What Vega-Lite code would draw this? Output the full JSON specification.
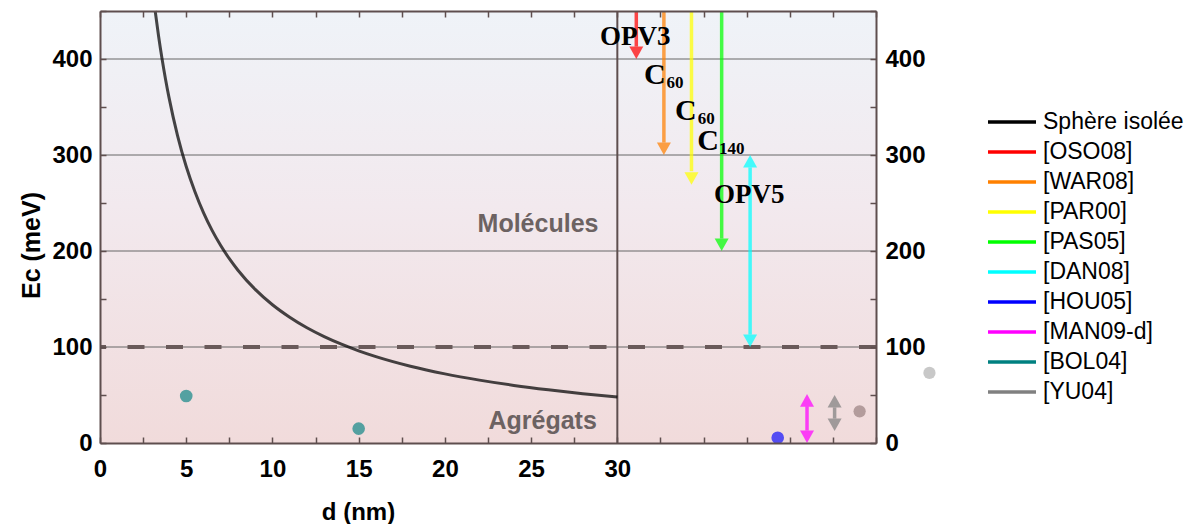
{
  "$schema": "https://vega.github.io/schema/vega-lite/v6.json",
  "width": 776,
  "height": 432,
  "autosize": {"type": "none"},
  "padding": {"left": 100, "top": 11, "right": 324, "bottom": 81},
  "background": "white",
  "config": {"view": {"stroke": null}, "font": "Liberation Sans"},
  "datasets": {
    "curve": [
      {"source": "Sphère isolée", "d": 3.2, "Ec": 450},
      {"source": "Sphère isolée", "d": 3.4, "Ec": 423.5},
      {"source": "Sphère isolée", "d": 3.6, "Ec": 400},
      {"source": "Sphère isolée", "d": 3.8, "Ec": 379},
      {"source": "Sphère isolée", "d": 4, "Ec": 360},
      {"source": "Sphère isolée", "d": 4.5, "Ec": 320},
      {"source": "Sphère isolée", "d": 5, "Ec": 288},
      {"source": "Sphère isolée", "d": 5.5, "Ec": 262},
      {"source": "Sphère isolée", "d": 6, "Ec": 240},
      {"source": "Sphère isolée", "d": 6.5, "Ec": 221.5},
      {"source": "Sphère isolée", "d": 7, "Ec": 205.7},
      {"source": "Sphère isolée", "d": 7.5, "Ec": 192},
      {"source": "Sphère isolée", "d": 8, "Ec": 180},
      {"source": "Sphère isolée", "d": 9, "Ec": 160},
      {"source": "Sphère isolée", "d": 10, "Ec": 144},
      {"source": "Sphère isolée", "d": 11, "Ec": 131},
      {"source": "Sphère isolée", "d": 12, "Ec": 120},
      {"source": "Sphère isolée", "d": 13, "Ec": 110.8},
      {"source": "Sphère isolée", "d": 14, "Ec": 102.9},
      {"source": "Sphère isolée", "d": 15, "Ec": 96},
      {"source": "Sphère isolée", "d": 16, "Ec": 90},
      {"source": "Sphère isolée", "d": 18, "Ec": 80},
      {"source": "Sphère isolée", "d": 20, "Ec": 72},
      {"source": "Sphère isolée", "d": 22, "Ec": 65.5},
      {"source": "Sphère isolée", "d": 24, "Ec": 60},
      {"source": "Sphère isolée", "d": 26, "Ec": 55.4},
      {"source": "Sphère isolée", "d": 28, "Ec": 51.4},
      {"source": "Sphère isolée", "d": 30, "Ec": 48}
    ],
    "grid": [{"y": 100}, {"y": 200}, {"y": 300}, {"y": 400}],
    "shafts": [
      {"source": "[OSO08]", "x": 31.1, "y": 450, "y2": 413},
      {"source": "[WAR08]", "x": 32.7, "y": 450, "y2": 313},
      {"source": "[PAR00]", "x": 34.3, "y": 450, "y2": 283},
      {"source": "[PAS05]", "x": 36.05, "y": 450, "y2": 213},
      {"source": "[DAN08]", "x": 37.7, "y": 113, "y2": 287},
      {"source": "[MAN09-d]", "x": 41.0, "y": 13, "y2": 38},
      {"source": "[YU04]", "x": 42.6, "y": 25.5, "y2": 37}
    ],
    "heads": [
      {"source": "[OSO08]", "x": 31.1, "y": 400, "dir": "down"},
      {"source": "[WAR08]", "x": 32.7, "y": 300, "dir": "down"},
      {"source": "[PAR00]", "x": 34.3, "y": 269, "dir": "down"},
      {"source": "[PAS05]", "x": 36.05, "y": 200, "dir": "down"},
      {"source": "[DAN08]", "x": 37.7, "y": 100, "dir": "down"},
      {"source": "[DAN08]", "x": 37.7, "y": 300, "dir": "up"},
      {"source": "[MAN09-d]", "x": 41.0, "y": 0, "dir": "down"},
      {"source": "[MAN09-d]", "x": 41.0, "y": 51, "dir": "up"},
      {"source": "[YU04]", "x": 42.6, "y": 12.5, "dir": "down"},
      {"source": "[YU04]", "x": 42.6, "y": 50, "dir": "up"}
    ],
    "points": [
      {"source": "[BOL04]", "x": 5, "y": 49},
      {"source": "[BOL04]", "x": 15, "y": 15},
      {"source": "[HOU05]", "x": 39.3, "y": 5.5}
    ],
    "labels": [
      {"t": "OPV3", "x": 29.0, "y": 414.6},
      {"t": "OPV5", "x": 35.6, "y": 249.7}
    ],
    "cs": [
      {"t": "C", "x": 31.55, "y": 374},
      {"t": "C", "x": 33.35, "y": 336.5},
      {"t": "C", "x": 34.64, "y": 305}
    ],
    "subs": [
      {"t": "60", "x": 32.85, "y": 369.5},
      {"t": "60", "x": 34.66, "y": 332},
      {"t": "140", "x": 35.9, "y": 301}
    ],
    "regions": [
      {"t": "Molécules", "x": 25.4, "y": 220},
      {"t": "Agrégats", "x": 25.67, "y": 14.3}
    ]
  },
  "layer": [
    {
      "data": {"values": [{}]},
      "mark": {"type": "rect", "color": {"gradient": "linear", "x1": 0, "y1": 0, "x2": 0, "y2": 1, "stops": [{"offset": 0, "color": "#eff3f8"}, {"offset": 0.45, "color": "#f2e9ee"}, {"offset": 1, "color": "#f1dbdb"}]}},
      "encoding": {
        "x": {"datum": 0, "type": "quantitative", "scale": {"domain": [0, 45], "nice": false, "zero": false}, "axis": null},
        "x2": {"datum": 45},
        "y": {"datum": 0, "type": "quantitative", "scale": {"domain": [0, 450], "nice": false, "zero": false}, "axis": null},
        "y2": {"datum": 450}
      }
    },
    {
      "data": {"name": "grid"},
      "mark": {"type": "rule", "color": "#666666", "strokeWidth": 1},
      "encoding": {
        "y": {"field": "y", "type": "quantitative", "scale": {"domain": [0, 450], "nice": false, "zero": false}, "axis": null}
      }
    },
    {
      "data": {"values": [{"y": 100}]},
      "mark": {"type": "rule", "color": "#6a5a5a", "strokeWidth": 4, "strokeDash": [17, 21.5]},
      "encoding": {
        "y": {"field": "y", "type": "quantitative", "scale": {"domain": [0, 450], "nice": false, "zero": false}, "axis": null}
      }
    },
    {
      "data": {"values": [{"x": 30}]},
      "mark": {"type": "rule", "color": "#5e4e4e", "strokeWidth": 2},
      "encoding": {
        "x": {"field": "x", "type": "quantitative", "scale": {"domain": [0, 45], "nice": false, "zero": false}, "axis": null}
      }
    },
    {
      "data": {"name": "curve"},
      "mark": {"type": "line", "strokeWidth": 3, "opacity": 0.72, "interpolate": "monotone"},
      "encoding": {
        "x": {"field": "d", "type": "quantitative", "scale": {"domain": [0, 45], "nice": false, "zero": false},
          "axis": {"orient": "bottom", "zindex": 1, "values": [0, 2.5, 5, 7.5, 10, 12.5, 15, 17.5, 20, 22.5, 25, 27.5, 30, 32.5, 35, 37.5, 40, 42.5, 45], "format": "~g",
            "labelExpr": "datum.value <= 30 && datum.value % 5 === 0 ? datum.label : ''",
            "tickSize": -6, "labelPadding": 20, "tickColor": "#5e4e4e", "tickWidth": 1.5, "domainColor": "#5e4e4e", "domainWidth": 2, "grid": false,
            "labelFont": "Liberation Sans", "labelFontWeight": "bold", "labelFontSize": 24, "labelColor": "black", "labelFlush": false, "labelOverlap": false,
            "title": "d (nm)", "titleFont": "Liberation Sans", "titleFontWeight": "bold", "titleFontSize": 24, "titleColor": "black",
            "titleX": 258, "titleY": 76, "titleAlign": "center", "titleBaseline": "alphabetic", "titleAnchor": null}},
        "y": {"field": "Ec", "type": "quantitative", "scale": {"domain": [0, 450], "nice": false, "zero": false},
          "axis": {"orient": "left", "zindex": 1, "values": [0, 50, 100, 150, 200, 250, 300, 350, 400, 450],
            "labelExpr": "datum.value % 100 === 0 && datum.value < 450 ? datum.label : ''",
            "tickSize": -6, "labelPadding": 14, "tickColor": "#5e4e4e", "tickWidth": 1.5, "domainColor": "#5e4e4e", "domainWidth": 2, "grid": false,
            "labelFont": "Liberation Sans", "labelFontWeight": "bold", "labelFontSize": 24, "labelColor": "black", "labelFlush": false, "labelOverlap": false,
            "title": "Ec (meV)", "titleFont": "Liberation Sans", "titleFontWeight": "bold", "titleFontSize": 25, "titleColor": "black",
            "titleX": -61, "titleY": 234, "titleAngle": 270, "titleAlign": "center", "titleBaseline": "alphabetic"}},
        "color": {"field": "source", "type": "nominal",
          "scale": {"domain": ["Sphère isolée", "[OSO08]", "[WAR08]", "[PAR00]", "[PAS05]", "[DAN08]", "[HOU05]", "[MAN09-d]", "[BOL04]", "[YU04]"],
            "range": ["#000000", "#ff0000", "#ff8000", "#ffff00", "#00ff00", "#00ffff", "#0000ff", "#ff00ff", "#008080", "#808080"]},
          "legend": {"orient": "none", "legendX": 886, "legendY": 96, "title": null, "symbolType": "stroke", "symbolSize": 2304, "symbolStrokeWidth": 3.5, "symbolOpacity": 1,
            "labelFont": "Liberation Sans", "labelFontSize": 23, "labelColor": "black", "labelOffset": 5, "rowPadding": 0, "clipHeight": 30, "padding": 0, "labelLimit": 300}}
      }
    },
    {
      "data": {"name": "shafts"},
      "mark": {"type": "rule", "strokeWidth": 3.5, "opacity": 0.72},
      "encoding": {
        "x": {"field": "x", "type": "quantitative", "scale": {"domain": [0, 45], "nice": false, "zero": false}, "axis": null},
        "y": {"field": "y", "type": "quantitative", "scale": {"domain": [0, 450], "nice": false, "zero": false}, "axis": null},
        "y2": {"field": "y2"},
        "color": {"field": "source", "type": "nominal", "legend": null}
      }
    },
    {
      "data": {"name": "heads"},
      "mark": {"type": "point", "filled": true, "size": 196, "opacity": 0.72, "strokeWidth": 0},
      "encoding": {
        "x": {"field": "x", "type": "quantitative", "scale": {"domain": [0, 45], "nice": false, "zero": false}, "axis": null},
        "y": {"field": "y", "type": "quantitative", "scale": {"domain": [0, 450], "nice": false, "zero": false}, "axis": null},
        "shape": {"field": "dir", "type": "nominal", "scale": {"domain": ["down", "up"], "range": ["M-1,-1.8L1,-1.8L0,0Z", "M-1,1.8L1,1.8L0,0Z"]}, "legend": null},
        "color": {"field": "source", "type": "nominal", "legend": null}
      }
    },
    {
      "data": {"name": "points"},
      "mark": {"type": "point", "filled": true, "size": 160, "opacity": 0.65, "strokeWidth": 0, "shape": "circle"},
      "encoding": {
        "x": {"field": "x", "type": "quantitative", "scale": {"domain": [0, 45], "nice": false, "zero": false},
          "axis": {"orient": "top", "zindex": 1, "values": [0, 2.5, 5, 7.5, 10, 12.5, 15, 17.5, 20, 22.5, 25, 27.5, 30, 32.5, 35, 37.5, 40, 42.5, 45], "labels": false,
            "tickSize": -6, "tickColor": "#5e4e4e", "tickWidth": 1.5, "domainColor": "#5e4e4e", "domainWidth": 2, "grid": false, "title": null}},
        "y": {"field": "y", "type": "quantitative", "scale": {"domain": [0, 450], "nice": false, "zero": false},
          "axis": {"orient": "right", "zindex": 1, "values": [0, 50, 100, 150, 200, 250, 300, 350, 400, 450],
            "labelExpr": "datum.value % 100 === 0 && datum.value < 450 ? datum.label : ''",
            "tickSize": -6, "labelPadding": 15, "tickColor": "#5e4e4e", "tickWidth": 1.5, "domainColor": "#5e4e4e", "domainWidth": 2, "grid": false,
            "labelFont": "Liberation Sans", "labelFontWeight": "bold", "labelFontSize": 24, "labelColor": "black", "labelFlush": false, "labelOverlap": false, "title": null}},
        "color": {"field": "source", "type": "nominal", "legend": null}
      }
    },
    {
      "data": {"values": [{"x": 44.05, "y": 33}]},
      "mark": {"type": "point", "filled": true, "size": 150, "color": "#b39c9c", "opacity": 1, "strokeWidth": 0, "shape": "circle"},
      "encoding": {
        "x": {"field": "x", "type": "quantitative", "scale": {"domain": [0, 45], "nice": false, "zero": false}, "axis": null},
        "y": {"field": "y", "type": "quantitative", "scale": {"domain": [0, 450], "nice": false, "zero": false}, "axis": null}
      }
    },
    {
      "data": {"values": [{"x": 48.1, "y": 73}]},
      "mark": {"type": "point", "filled": true, "size": 150, "color": "#c8c8c8", "opacity": 1, "strokeWidth": 0, "shape": "circle"},
      "encoding": {
        "x": {"field": "x", "type": "quantitative", "scale": {"domain": [0, 45], "nice": false, "zero": false}, "axis": null},
        "y": {"field": "y", "type": "quantitative", "scale": {"domain": [0, 450], "nice": false, "zero": false}, "axis": null}
      }
    },
    {
      "data": {"name": "regions"},
      "mark": {"type": "text", "font": "Liberation Sans", "fontWeight": "bold", "fontSize": 25, "color": "#6c6262", "align": "center", "baseline": "alphabetic"},
      "encoding": {
        "x": {"field": "x", "type": "quantitative", "scale": {"domain": [0, 45], "nice": false, "zero": false}, "axis": null},
        "y": {"field": "y", "type": "quantitative", "scale": {"domain": [0, 450], "nice": false, "zero": false}, "axis": null},
        "text": {"field": "t"}
      }
    },
    {
      "data": {"name": "labels"},
      "mark": {"type": "text", "font": "Liberation Serif", "fontWeight": "bold", "fontSize": 27, "color": "black", "align": "left", "baseline": "alphabetic"},
      "encoding": {
        "x": {"field": "x", "type": "quantitative", "scale": {"domain": [0, 45], "nice": false, "zero": false}, "axis": null},
        "y": {"field": "y", "type": "quantitative", "scale": {"domain": [0, 450], "nice": false, "zero": false}, "axis": null},
        "text": {"field": "t"}
      }
    },
    {
      "data": {"name": "cs"},
      "mark": {"type": "text", "font": "Liberation Serif", "fontWeight": "bold", "fontSize": 30, "color": "black", "align": "left", "baseline": "alphabetic"},
      "encoding": {
        "x": {"field": "x", "type": "quantitative", "scale": {"domain": [0, 45], "nice": false, "zero": false}, "axis": null},
        "y": {"field": "y", "type": "quantitative", "scale": {"domain": [0, 450], "nice": false, "zero": false}, "axis": null},
        "text": {"field": "t"}
      }
    },
    {
      "data": {"name": "subs"},
      "mark": {"type": "text", "font": "Liberation Serif", "fontWeight": "bold", "fontSize": 17, "color": "black", "align": "left", "baseline": "alphabetic"},
      "encoding": {
        "x": {"field": "x", "type": "quantitative", "scale": {"domain": [0, 45], "nice": false, "zero": false}, "axis": null},
        "y": {"field": "y", "type": "quantitative", "scale": {"domain": [0, 450], "nice": false, "zero": false}, "axis": null},
        "text": {"field": "t"}
      }
    }
  ],
  "resolve": {"axis": {"x": "independent", "y": "independent"}}
}
